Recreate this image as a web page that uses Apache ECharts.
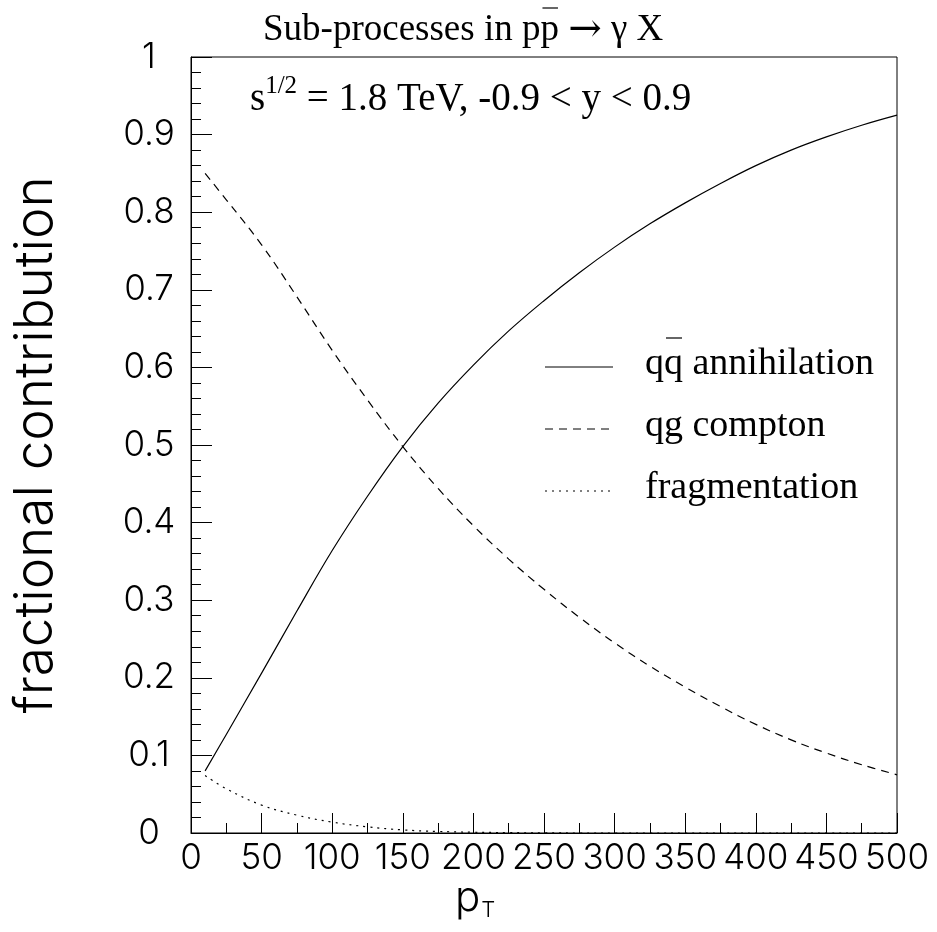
<!DOCTYPE html>
<html><head><meta charset="utf-8">
<script src="https://cdn.jsdelivr.net/npm/echarts@6/dist/echarts.min.js"></script>
<style>html,body{margin:0;padding:0;background:#fff}#c{width:937px;height:932px}</style>
</head><body><div id="c"></div>
<script>
// ---- data ----
const ptValues      = [10, 25, 50, 75, 100, 125, 150, 175, 200, 225, 250, 275, 300, 325, 350, 375, 400, 425, 450, 475, 500];
const annihilation  = [0.080, 0.127, 0.206, 0.286, 0.364, 0.434, 0.498, 0.554, 0.603, 0.647, 0.686, 0.722, 0.755, 0.785, 0.812, 0.837, 0.860, 0.880, 0.897, 0.912, 0.925];
const compton       = [0.850, 0.816, 0.758, 0.691, 0.622, 0.558, 0.498, 0.444, 0.396, 0.353, 0.314, 0.278, 0.245, 0.215, 0.188, 0.163, 0.140, 0.120, 0.103, 0.088, 0.075];
const fragmentation = [0.074, 0.057, 0.036, 0.023, 0.014, 0.008, 0.004, 0.002, 0.001, 0.0005, 0.0002, 0, 0, 0, 0, 0, 0, 0, 0, 0, 0];
const seriesNames   = ['qq\u0304 annihilation', 'qg compton', 'fragmentation'];
const xTicks = {min: 0, max: 500, interval: 50};
const yTicks = {min: 0, max: 1, interval: 0.1};

// ---- helpers ----
const ctx = document.createElement('canvas').getContext('2d');
function tw(t, font) { ctx.font = font; return ctx.measureText(t).width; }
const pair = arr => ptValues.map((p, i) => [p, arr[i]]);

const SERIF = '37px "Liberation Serif"';
const SERIF2 = '39px "Liberation Serif"';
const LEGF = '38px "Liberation Serif"';
const SANS = 'Inter';
const G = {left: 191, right: 897, top: 57, bottom: 833};

const graphics = [];
function txt(x, y, text, font, extra) {
  graphics.push(Object.assign({type: 'text', x: x, y: y, silent: true,
    style: {text: text, font: font, fill: '#000', align: 'left', verticalAlign: 'middle'}}, extra || {}));
}
function ln(x1, y1, x2, y2, dash, w) {
  graphics.push({type: 'line', silent: true, shape: {x1: x1, y1: y1, x2: x2, y2: y2},
    style: {stroke: '#000', lineWidth: w || 1, lineDash: dash || null}});
}

// title: Sub-processes in p p-bar -> gamma X
const tx = 263;
const t1a = 'Sub-processes in pp ';
txt(tx, 30, t1a, SERIF);
const pbx = tx + tw('Sub-processes in p', SERIF);
ln(pbx + 2, 8, pbx + tw('p', SERIF) - 1, 8, null, 1.2);
const ARROWF = '40px "DejaVu Serif"';
const ax = tx + tw(t1a, SERIF);
txt(ax, 31, '\u2192', ARROWF);
txt(ax + tw('\u2192', ARROWF), 30, ' \u03b3 X', SERIF);

// second line: s^{1/2} = 1.8 TeV, -0.9 < y < 0.9
const sx = 250;
txt(sx, 100, 's', SERIF2);
const supFont = '25px "Liberation Serif"';
const sx2 = sx + tw('s', SERIF2);
txt(sx2, 86, '1/2', supFont);
const sx3 = sx2 + tw('1/2', supFont);
txt(sx3, 100, ' = 1.8 TeV, -0.9 < y < 0.9', SERIF2);

// legend
const legendY = [367, 429, 491];
const legendDash = [null, [8, 6], [2, 5]];
for (let i = 0; i < 3; i++) {
  ln(545, legendY[i], 613, legendY[i], legendDash[i], 1);
}
txt(645, legendY[0] - 3, 'qq annihilation', LEGF);
const qbx = 645 + tw('q', LEGF);
ln(qbx + 2, 338, qbx + tw('q', LEGF) - 1, 338, null, 1.2);
txt(645, legendY[1] - 3, seriesNames[1], LEGF);
txt(645, legendY[2] - 3, seriesNames[2], LEGF);

// x-axis title p_T
const pFont = '300 42px "' + SANS + '"';
const px = 455;
txt(px, 898, 'p', pFont);
txt(px + tw('p', pFont) + 1, 910, 'T', '300 22px "' + SANS + '"');

const chart = echarts.init(document.getElementById('c'), null, {renderer: 'canvas'});
const axisLabelStyle = {fontFamily: SANS, fontWeight: 300, fontSize: 35, color: '#000'};
chart.setOption({
  animation: false,
  backgroundColor: '#fff',
  grid: {left: G.left, right: 937 - G.right, top: G.top, bottom: 932 - G.bottom,
         show: true, borderColor: '#000', borderWidth: 1, backgroundColor: 'transparent'},
  xAxis: {
    type: 'value', min: xTicks.min, max: xTicks.max, interval: xTicks.interval,
    axisLine: {show: true, onZero: false, lineStyle: {color: '#000', width: 1}},
    axisTick: {show: true, inside: true, length: 20, lineStyle: {color: '#000', width: 1}},
    minorTick: {show: true, splitNumber: 2, length: 10, lineStyle: {color: '#000', width: 1}},
    splitLine: {show: false},
    axisLabel: Object.assign({margin: 8, hideOverlap: false, showMinLabel: true, showMaxLabel: true}, axisLabelStyle)
  },
  yAxis: {
    type: 'value', min: yTicks.min, max: yTicks.max, interval: yTicks.interval,
    name: 'fractional contribution', nameLocation: 'middle', nameGap: 128, nameRotate: 90,
    nameTextStyle: {fontFamily: SANS, fontWeight: 300, fontSize: 53, color: '#000'},
    axisLine: {show: true, onZero: false, lineStyle: {color: '#000', width: 1}},
    axisTick: {show: true, inside: true, length: 21, lineStyle: {color: '#000', width: 1}},
    minorTick: {show: true, splitNumber: 5, length: 10, lineStyle: {color: '#000', width: 1}},
    splitLine: {show: false},
    axisLabel: Object.assign({margin: 42, align: 'center', hideOverlap: false, showMinLabel: true, showMaxLabel: true}, axisLabelStyle)
  },
  series: [
    {name: seriesNames[0], type: 'line', data: pair(annihilation), showSymbol: false, smooth: 0.4,
     lineStyle: {color: '#000', width: 1.2, type: 'solid'}, clip: true},
    {name: seriesNames[1], type: 'line', data: pair(compton), showSymbol: false, smooth: 0.4,
     lineStyle: {color: '#000', width: 1.2, type: [8, 6]}, clip: true},
    {name: seriesNames[2], type: 'line', data: pair(fragmentation), showSymbol: false, smooth: 0.4,
     lineStyle: {color: '#000', width: 1.2, type: [2, 5]}, clip: true}
  ],
  graphic: graphics
});
</script>
</body></html>
